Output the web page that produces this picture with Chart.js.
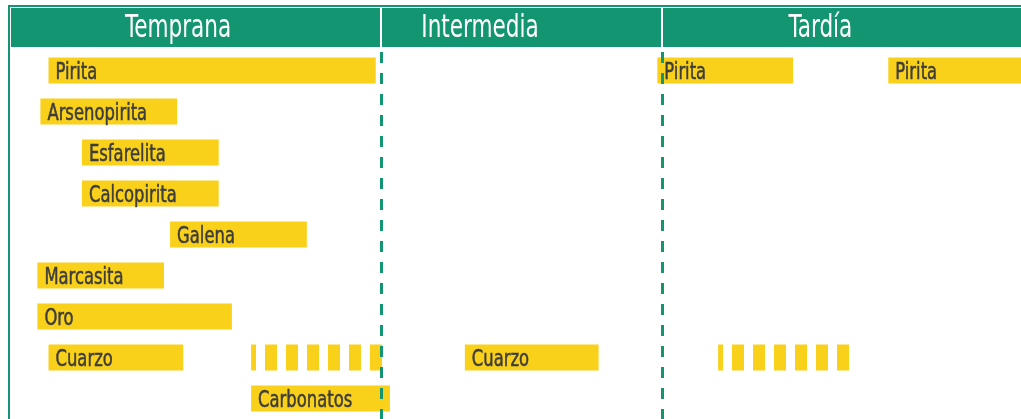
<!DOCTYPE html>
<html>
<head>
<meta charset="utf-8">
<script src="https://cdn.jsdelivr.net/npm/chart.js@4"></script>
<style>
  html, body { margin: 0; padding: 0; background: #fff; }
</style>
</head>
<body>
<canvas id="seq" width="1021" height="419"></canvas>
<script>
// rows of the paragenetic sequence (top to bottom)
const minerals = ['Pirita', 'Arsenopirita', 'Esfarelita', 'Calcopirita', 'Galena', 'Marcasita', 'Oro', 'Cuarzo', 'Carbonatos'];

// solid bars: mineral, start, end (relative time, 0-100)
const barMineral = ['Pirita', 'Arsenopirita', 'Esfarelita', 'Calcopirita', 'Galena', 'Marcasita', 'Oro', 'Cuarzo', 'Carbonatos', 'Cuarzo', 'Pirita', 'Pirita'];
const barStart = [4.0, 3.2, 7.3, 7.3, 16.0, 2.9, 2.9, 4.0, 24.0, 45.1, 64.1, 86.9];
const barEnd = [36.3, 16.7, 20.8, 20.8, 29.5, 15.4, 22.1, 17.3, 37.7, 58.3, 77.5, 100];

// dashed (intermittent) bars
const dashMineral = ['Cuarzo', 'Cuarzo'];
const dashStart = [24.0, 70.1];
const dashEnd = [37.7, 83.9];

// stages
const stageNames = ['Temprana', 'Intermedia', 'Tardía'];
const stageTitleAt = [16.8, 46.6, 80.2];
const stageLimits = [36.8, 64.6];

const GREEN = '#139572';
const YELLOW = '#F9D01A';
const FONT = "'DejaVu Sans Condensed', sans-serif";

// yellow stripe pattern for the intermittent bars
function stripes(ctx, phase) {
  const c = document.createElement('canvas');
  c.width = 21; c.height = 4;
  const g = c.getContext('2d');
  g.fillStyle = YELLOW;
  for (let i = 0; i < 12; i++) {
    g.fillRect((phase + i) % 21, 0, 1, 4);
  }
  return ctx.createPattern(c, 'repeat');
}

// narrow text (condensed look)
function narrowText(ctx, txt, x, y, sx, stroke) {
  ctx.save();
  ctx.translate(x, y);
  ctx.scale(sx, 1);
  ctx.fillText(txt, 0, 0);
  if (stroke) ctx.strokeText(txt, 0, 0);
  ctx.restore();
}

const frame = {
  id: 'frame',
  beforeDraw(chart) {
    const { ctx, scales: { x } } = chart;
    ctx.save();
    // outer frame
    ctx.strokeStyle = GREEN;
    ctx.lineWidth = 2;
    ctx.beginPath();
    ctx.moveTo(9, 419);
    ctx.lineTo(9, 6);
    ctx.lineTo(1021, 6);
    ctx.stroke();
    // header band
    ctx.fillStyle = GREEN;
    ctx.fillRect(11, 8, 1010, 39);
    ctx.strokeStyle = '#fff';
    ctx.lineWidth = 2;
    stageLimits.forEach(v => {
      const px = Math.round(x.getPixelForValue(v));
      ctx.beginPath();
      ctx.moveTo(px, 8);
      ctx.lineTo(px, 47);
      ctx.stroke();
    });
    ctx.fillStyle = '#fff';
    ctx.font = '32px ' + FONT;
    ctx.textAlign = 'center';
    ctx.textBaseline = 'alphabetic';
    stageNames.forEach((n, i) => narrowText(ctx, n, x.getPixelForValue(stageTitleAt[i]), 37, 0.75, false));
    ctx.restore();
  },
  afterDatasetsDraw(chart) {
    const { ctx, chartArea: a, scales: { x } } = chart;
    ctx.save();
    // stage limits, dashed
    ctx.strokeStyle = GREEN;
    ctx.lineWidth = 3;
    ctx.setLineDash([11, 10]);
    ctx.lineDashOffset = -2;
    stageLimits.forEach(v => {
      const px = Math.round(x.getPixelForValue(v)) + 0.5;
      ctx.beginPath();
      ctx.moveTo(px, a.top);
      ctx.lineTo(px, a.bottom);
      ctx.stroke();
    });
    ctx.setLineDash([]);
    // bar labels
    ctx.fillStyle = '#3d3d3d';
    ctx.strokeStyle = '#3d3d3d';
    ctx.lineWidth = 0.5;
    ctx.font = '22.5px ' + FONT;
    ctx.textAlign = 'left';
    ctx.textBaseline = 'alphabetic';
    chart.getDatasetMeta(0).data.forEach((el, i) => {
      const left = Math.min(el.x, el.base);
      narrowText(ctx, barMineral[i], left + 7, el.y + 8.5, 0.81, true);
    });
    ctx.restore();
  }
};

const ctx = document.getElementById('seq').getContext('2d');
const myChart = new Chart(ctx, {
  type: 'bar',
  data: {
    labels: minerals,
    datasets: [{
      label: 'continuo',
      data: barMineral.map((m, i) => ({ y: m, x: [barStart[i], barEnd[i]] })),
      backgroundColor: YELLOW,
      grouped: false,
      barPercentage: 0.64,
      categoryPercentage: 1
    }, {
      label: 'intermitente',
      data: dashMineral.map((m, i) => ({ y: m, x: [dashStart[i], dashEnd[i]] })),
      backgroundColor: [stripes(ctx, 13), stripes(ctx, 18)],
      grouped: false,
      barPercentage: 0.64,
      categoryPercentage: 1
    }]
  },
  options: {
    indexAxis: 'y',
    responsive: false,
    animation: false,
    layout: { padding: { top: 50, left: 8, right: 0, bottom: 0 } },
    plugins: {
      legend: { display: false },
      tooltip: { enabled: false }
    },
    scales: {
      x: { type: 'linear', min: 0, max: 100, display: false },
      y: { type: 'category', display: false }
    }
  },
  plugins: [frame]
});
</script>
</body>
</html>
